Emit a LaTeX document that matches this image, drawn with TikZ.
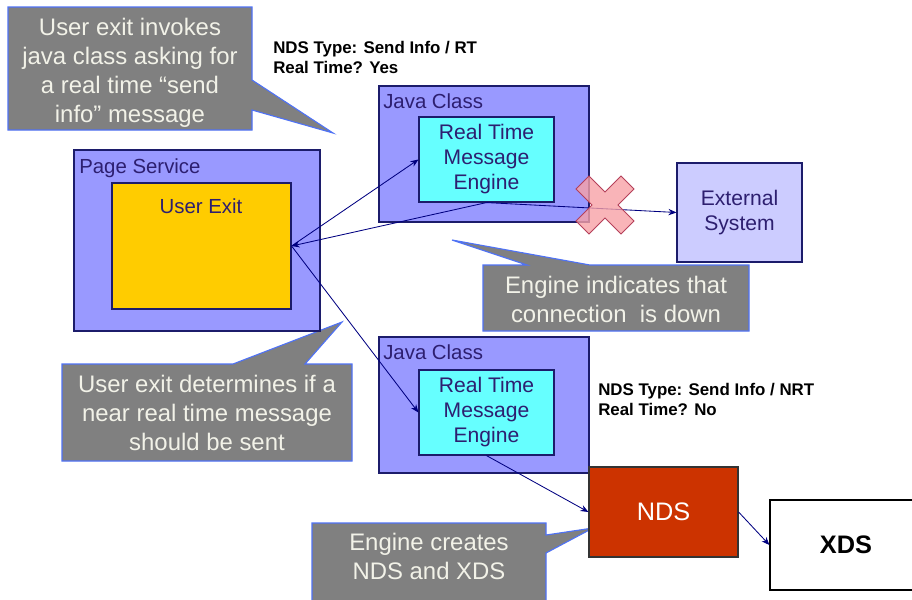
\documentclass[tikz,border=0pt]{standalone}
\usepackage{fontspec}
\setmainfont{Liberation Sans}
\usepackage{tikz}
\usetikzlibrary{arrows.meta}
\definecolor{cogrey}{HTML}{808080}
\definecolor{coblue}{HTML}{4F72F5}
\definecolor{cotext}{HTML}{F2F2E8}
\definecolor{jcblue}{HTML}{9999FF}
\definecolor{boxnavy}{HTML}{1C1C6B}
\definecolor{txnavy}{HTML}{2D1F70}
\definecolor{rtcyan}{HTML}{66FFFF}
\definecolor{exlilac}{HTML}{CCCCFF}
\definecolor{uxgold}{HTML}{FFCC00}
\definecolor{ndsred}{HTML}{CC3300}
\definecolor{arnavy}{HTML}{000080}
\definecolor{xpink}{HTML}{F7A1A6}
\definecolor{xred}{HTML}{B5405A}

\begin{document}
\begin{tikzpicture}[x=0.025cm,y=-0.025cm,
  callout/.style={fill=cogrey,draw=coblue,line width=0.8pt},
  callouttext/.style={text=cotext,align=center,font=\fontsize{17}{20.6}\selectfont,inner sep=0pt},
  holder/.style={fill=jcblue,draw=boxnavy,line width=0.8pt,inner sep=0pt},
  inbox/.style={draw=boxnavy,line width=0.8pt,text=txnavy,align=center,font=\fontsize{15}{17.8}\selectfont,inner sep=0pt},
  holdlabel/.style={text=txnavy,font=\fontsize{14.5}{17}\selectfont,anchor=base west,inner sep=0pt},
  note/.style={font=\bfseries\fontsize{12}{14.2}\selectfont,align=left,anchor=north west,inner sep=0pt},
  link/.style={-{Stealth[length=2mm,width=1.6mm]},arnavy,line width=0.6pt}]
\useasboundingbox (0,0) rectangle (912,599);
\clip (0,0) rectangle (912,599);

% callouts
\draw[callout] (8,7) -- (252,7) -- (252,80) -- (333,133) -- (252,110) -- (252,130) -- (8,130) -- cycle;
\node[callouttext] (invokes) at (130,73) {User exit invokes\\java class asking for\\a real time “send\\info” message};
\draw[callout] (483,265) -- (527,265) -- (452,240) -- (590,265) -- (749,265) -- (749,331) -- (483,331) -- cycle;
\node[callouttext] (isdown) at (616,299) {Engine indicates that\\connection\ \ is down};
\draw[callout] (62,364) -- (233,364) -- (342,322) -- (305,364) -- (352,364) -- (352,461) -- (62,461) -- cycle;
\node[callouttext] (decides) at (207,413) {User exit determines if a\\near real time message\\should be sent};
\draw[callout] (312,523) -- (546,523) -- (546,535) -- (593,528) -- (546,553) -- (546,610) -- (312,610) -- cycle;
\node[callouttext] (creates) at (429,556) {Engine creates\\NDS and XDS};

% page service
\node[holder,minimum width=6.15cm,minimum height=4.525cm] (page) at (197,240.5) {};
\node[holdlabel] (pagelbl) at (79,173) {Page Service};
\node[inbox,fill=uxgold,minimum width=4.475cm,minimum height=3.15cm] (ux) at (201.5,246) {};
\node[holdlabel,anchor=base] (uxlbl) at (201,213) {User Exit};

% real time
\node[holder,minimum width=5.25cm,minimum height=3.4cm] (jc1) at (484,154) {};
\node[holdlabel] (jc1lbl) at (383,108) {Java Class};
\node[inbox,fill=rtcyan,minimum width=3.375cm,minimum height=2.125cm] (rt1) at (486.5,159.5) {Real Time\\Message\\Engine};
\node[inbox,fill=exlilac,minimum width=3.125cm,minimum height=2.475cm] (ext) at (739.5,212.5) {External\\System};
\node[note] (rtnote) at (273,41) {NDS Type: Send Info / RT\\Real Time? Yes};

% near real time
\node[holder,minimum width=5.25cm,minimum height=3.4cm] (jc2) at (484,405) {};
\node[holdlabel] (jc2lbl) at (383,359) {Java Class};
\node[inbox,fill=rtcyan,minimum width=3.375cm,minimum height=2.125cm] (rt2) at (486.5,412.5) {Real Time\\Message\\Engine};
\node[note] (nrtnote) at (598,383) {NDS Type: Send Info / NRT\\Real Time? No};
\node[inbox,fill=ndsred,draw=black!80,text=white,font=\fontsize{18}{21}\selectfont,minimum width=3.725cm,minimum height=2.25cm] (nds) at (663.5,512) {NDS};
\node[draw=black,fill=white,line width=0.8pt,font=\bfseries\fontsize{18}{21}\selectfont,minimum width=3.8cm,minimum height=2.25cm] (xds) at (846,545) {XDS};

% arrows
\draw[link] (ux.east) -- (rt1.west);
\draw[link] (rt1.south) -- (ux.east);
\draw[link] (rt1.south) -- (ext.west);
\draw[link] (ux.east) -- (rt2.west);
\draw[link] (rt2.south) -- (nds.west);
\draw[link] (nds.east) -- (xds.west);

% connection down
\draw[fill=xpink,fill opacity=0.8,draw=xred,line width=0.6pt,shift={(605,205)}]
  (-29,-16) -- (-16,-29) -- (0,-13) -- (16,-29) -- (29,-16) -- (13,0)
  -- (29,16) -- (16,29) -- (0,13) -- (-16,29) -- (-29,16) -- (-13,0) -- cycle;
\end{tikzpicture}
\end{document}
